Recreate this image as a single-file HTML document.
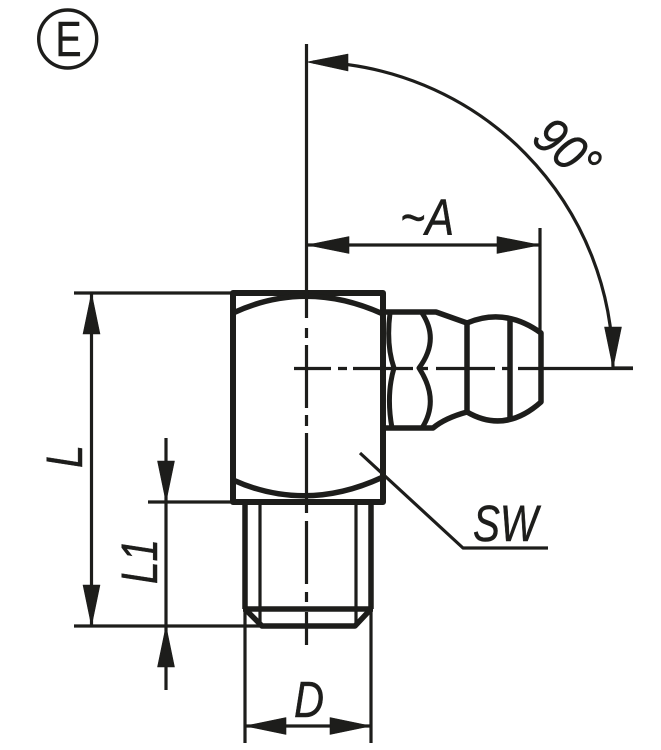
<!DOCTYPE html>
<html><head><meta charset="utf-8"><style>
html,body{margin:0;padding:0;background:#fff;width:661px;height:750px;overflow:hidden}
svg{display:block}
text{font-family:"Liberation Sans",sans-serif;fill:#1d1d1b}
.i{font-style:italic;font-size:51px;stroke:#1d1d1b;stroke-width:.5px}
</style></head><body>
<svg width="661" height="750" viewBox="0 0 661 750" xmlns="http://www.w3.org/2000/svg">
<rect width="661" height="750" fill="#fff"/>
<!-- circle E -->
<circle cx="67.7" cy="39" r="29" fill="none" stroke="#1d1d1b" stroke-width="3.4"/>
<text x="55.5" y="56" font-size="49" textLength="26" lengthAdjust="spacingAndGlyphs" stroke="#1d1d1b" stroke-width=".6">E</text>

<g fill="none" stroke="#1d1d1b" stroke-linejoin="round">
<!-- body -->
<rect x="233" y="293" width="150" height="209" stroke-width="6"/>
<path d="M233 313Q306 279 383 314" stroke-width="5.5"/>
<path d="M233 480Q306 513 383 477" stroke-width="5.5"/>
<!-- nipple -->
<path d="M383 312H436L467 323Q505 307 541 333V402Q505 434 467 412Q445 418 433 428H383" stroke-width="5.5"/>
<path d="M467 323V412M510 318V421" stroke-width="5.5"/>
<path d="M422 313Q440 340 419 368Q440 400 422 428" stroke-width="5"/>
<path d="M390 313Q386 345 394 368Q386 395 392 428" stroke-width="5"/>
<!-- thread -->
<path d="M245 503V609M371 503V609" stroke-width="5.5"/>
<path d="M260 503V626M356 503V626" stroke-width="3.2"/>
<path d="M243 609H373" stroke-width="5.5"/>
<path d="M245 609L262 626H355L371 609" stroke-width="5.5"/>
<!-- dimension lines -->
<g stroke-width="3.2">
<path d="M74 293H232M74 626H262M148 502H232"/>
<path d="M91.5 293V626"/>
<path d="M166 438V690"/>
<path d="M245 609V743M371 609V743"/>
<path d="M245 726H371"/>
<path d="M307 245H540M540 228V330"/>
<path d="M313 62A306 306 0 0 1 613 368"/>
<path d="M360 453L463 548H548"/>
<path d="M613 368H633"/>
</g>
<!-- centre lines -->
<path d="M306.5 44V318M306.5 328V338M306.5 345V408M306.5 415V426M306.5 433V493M306.5 497V513M306.5 521V584M306.5 592V602M306.5 612V645" stroke-width="3.2"/>
<path d="M294 368.5H331M338 368.5H347M353 368.5H413M420 368.5H428M436 368.5H495M502 368.5H510M518 368.5H633" stroke-width="3.2"/>
</g>

<!-- arrowheads -->
<g fill="#1d1d1b" stroke="#1d1d1b" stroke-width=".6" stroke-linejoin="round">
<path d="M91.5 293L83 334H100Z"/>
<path d="M91.5 626L83 585H100Z"/>
<path d="M166 502L157.5 461H174.5Z"/>
<path d="M166 626L157.5 667H174.5Z"/>
<path d="M245 726L286 717.5V734.5Z"/>
<path d="M371 726L330 717.5V734.5Z"/>
<path d="M307 245L349 236.5V253.5Z"/>
<path d="M540 245L497 236.5V253.5Z"/>
<path d="M307 62L348 54V71Z"/>
<path d="M613 368L604.500 327H621.500Z"/>
</g>

<!-- labels -->
<text class="i" x="400" y="235" textLength="54" lengthAdjust="spacingAndGlyphs">~A</text>
<text class="i" x="473" y="541" textLength="65" lengthAdjust="spacingAndGlyphs">SW</text>
<text class="i" x="294" y="717" textLength="30" lengthAdjust="spacingAndGlyphs">D</text>
<text class="i" transform="translate(82 468) rotate(-90)" textLength="23" lengthAdjust="spacingAndGlyphs">L</text>
<text class="i" transform="translate(157 584) rotate(-90)" textLength="45" lengthAdjust="spacingAndGlyphs">L1</text>
<text class="i" transform="translate(530 141) rotate(40)" textLength="68" lengthAdjust="spacingAndGlyphs">90°</text>
</svg>
</body></html>
